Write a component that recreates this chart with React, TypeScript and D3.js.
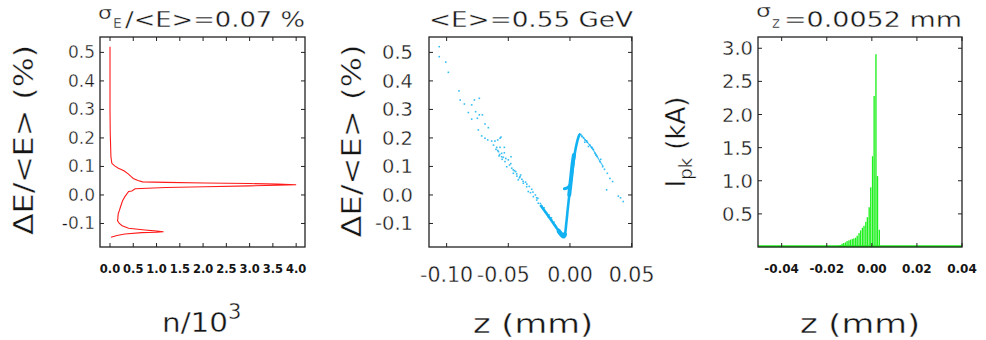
import React from "react";
import * as d3 from "d3";

// ---------- Panel 1: energy histogram ----------
const histN = [0, 0, 0.005, 0.02, 0.04, 0.1, 0.18, 0.3, 0.39, 0.45, 0.5, 0.6, 0.7, 1.2, 2.04, 3.0, 3.6, 4.0, 3.6, 3.0, 2.04, 1.2, 0.54, 0.47, 0.4, 0.32, 0.27, 0.25, 0.22, 0.2, 0.18, 0.17, 0.17, 0.16, 0.2, 0.26, 0.4, 0.75, 0.95, 1.15, 1.0, 0.68, 0.32, 0.15, 0.02];
const histE = [0.52, 0.3, 0.217, 0.133, 0.111, 0.102, 0.094, 0.085, 0.074, 0.065, 0.058, 0.051, 0.046, 0.044, 0.042, 0.040, 0.038, 0.036, 0.034, 0.032, 0.029, 0.026, 0.022, 0.014, 0.012, -0.006, -0.02, -0.03, -0.045, -0.055, -0.064, -0.075, -0.082, -0.09, -0.1, -0.108, -0.117, -0.123, -0.126, -0.129, -0.131, -0.132, -0.137, -0.142, -0.148];
const ticksE = [-0.1, 0, 0.1, 0.2, 0.3, 0.4, 0.5];
const ticksN = [0, 0.5, 1, 1.5, 2, 2.5, 3, 3.5, 4];

// ---------- Panel 2: longitudinal phase space ----------
const sparseZ = [-0.106, -0.106, -0.1007, -0.0986, -0.09, -0.089, -0.0856, -0.0797, -0.0775, -0.0735, -0.0824, -0.0765, -0.0797, -0.0751, -0.0735, -0.071, -0.0689, -0.0662, -0.0743, -0.0716, -0.0689, -0.0667, -0.0635, -0.0608, -0.0586, -0.0567, -0.0559, -0.0594, -0.0567, -0.0532, -0.0586, -0.0554, -0.0532, -0.0575, -0.054, -0.0478, -0.058, -0.0554, -0.0527, -0.05, -0.0513, -0.0472, -0.0459, -0.0432, -0.0405, -0.0419, -0.0378, -0.0351, -0.0338, -0.0297, -0.027, -0.0257, -0.0229, -0.0203, -0.0176, -0.0148, -0.0122, -0.0095, -0.0068, -0.049, -0.046, -0.044, -0.04, -0.039, -0.036, -0.033, -0.031, -0.032, -0.028, -0.026, -0.024, -0.021, -0.019, -0.017, -0.015, -0.013, -0.011, 0.0095, 0.011, 0.0122, 0.014, 0.0162, 0.018, 0.0203, 0.022, 0.0243, 0.0265, 0.028, 0.0303, 0.0324, 0.0346, 0.0297, 0.0392, 0.0432, 0.041, 0.015, 0.019, 0.012, 0.025, 0.021, 0.0175, 0.0135, -0.062, -0.06, -0.057, -0.055, -0.052, -0.048, -0.045, -0.043, -0.041, -0.038, -0.035, -0.03, -0.027, -0.023];
const sparseE = [0.52, 0.485, 0.466, 0.43, 0.365, 0.333, 0.319, 0.316, 0.333, 0.339, 0.289, 0.292, 0.266, 0.269, 0.281, 0.281, 0.249, 0.236, 0.228, 0.207, 0.199, 0.193, 0.189, 0.189, 0.193, 0.199, 0.203, 0.167, 0.167, 0.167, 0.156, 0.146, 0.148, 0.137, 0.132, 0.134, 0.152, 0.134, 0.117, 0.123, 0.099, 0.094, 0.076, 0.074, 0.064, 0.053, 0.041, 0.029, 0.012, -0.006, -0.018, -0.029, -0.041, -0.059, -0.076, -0.088, -0.105, -0.12, -0.132, 0.105, 0.088, 0.082, 0.07, 0.055, 0.045, 0.03, 0.02, 0.008, 0.0, -0.012, -0.03, -0.045, -0.062, -0.07, -0.08, -0.095, -0.11, 0.205, 0.2, 0.193, 0.185, 0.175, 0.165, 0.146, 0.135, 0.117, 0.099, 0.09, 0.076, 0.058, 0.047, 0.018, -0.004, -0.023, -0.01, 0.17, 0.16, 0.185, 0.125, 0.14, 0.168, 0.19, 0.175, 0.16, 0.142, 0.125, 0.128, 0.11, 0.085, 0.066, 0.06, 0.048, 0.038, 0.01, -0.01, -0.038];
const coreZ = [-0.024, -0.019, -0.015, -0.011, -0.008, -0.0065, -0.005, -0.0042, -0.003, -0.0018, -0.0008, 0.0002, 0.0015, 0.003, 0.0045, 0.006, 0.0075, 0.0085];
const coreE = [-0.035, -0.065, -0.09, -0.115, -0.132, -0.14, -0.145, -0.14, -0.1, -0.05, -0.01, 0.03, 0.07, 0.12, 0.16, 0.19, 0.21, 0.215];
const blobZ = [-0.009, -0.0065, -0.005, -0.0042];
const blobE = [-0.127, -0.141, -0.145, -0.138];
const riseZ = [-0.0006, 0.0008, 0.0022, 0.0032];
const riseE = [0.0, 0.055, 0.11, 0.14];
const hookZ = [-0.0045, -0.002, 0.0];
const hookE = [0.022, 0.025, 0.035];
const fallZ = [0.0085, 0.012, 0.016, 0.02, 0.024, 0.027];
const fallE = [0.215, 0.195, 0.175, 0.15, 0.12, 0.1];
const ticksZ2 = [-0.1, -0.05, 0, 0.05];

// ---------- Panel 3: current profile ----------
const binZ = [-0.0146, -0.0139, -0.0131, -0.0124, -0.0116, -0.0109, -0.0101, -0.0094, -0.0086, -0.0079, -0.0071, -0.0064, -0.0056, -0.0049, -0.0041, -0.0034, -0.0026, -0.0019, -0.0011, -0.0004, 0.0004, 0.0011, 0.0019, 0.0026, 0.0034];
const binI = [0.02, 0.03, 0.05, 0.06, 0.07, 0.09, 0.1, 0.11, 0.12, 0.13, 0.14, 0.17, 0.21, 0.25, 0.29, 0.32, 0.38, 0.45, 0.6, 0.9, 1.37, 2.28, 2.91, 1.07, 0.26];
const floorZ = [-0.0505, 0.04];
const floorI = [0.012, 0.012];
const ticksZ3 = [-0.04, -0.02, 0, 0.02, 0.04];
const ticksI = [0.5, 1, 1.5, 2, 2.5, 3];

const FONT = "DejaVu Sans";
const TOP = 37;
const BOT = 247;
const INK = "#151515";
const fmt1 = (v: number) => d3.format(".1f")(v).replace("−", "-");
const fmt2 = (v: number) => d3.format(".2f")(v).replace("−", "-");

// slightly thinner-looking text: a faint white outline over the glyph edges
const thin = { stroke: "#fff", strokeWidth: 0.35 } as const;

function Frame({ x0, x1, xs, ys, xt, yt }: any) {
  const tl = 4;
  return (
    <g stroke="#222" strokeWidth={1}>
      <rect x={x0} y={TOP} width={x1 - x0} height={BOT - TOP} fill="none" strokeWidth={1.3} />
      {xt.map((t: number, i: number) => (
        <g key={"x" + i}>
          <line x1={xs(t)} x2={xs(t)} y1={BOT} y2={BOT - tl} />
          <line x1={xs(t)} x2={xs(t)} y1={TOP} y2={TOP + tl} />
        </g>
      ))}
      {yt.map((t: number, i: number) => (
        <g key={"y" + i}>
          <line x1={x0} x2={x0 + tl} y1={ys(t)} y2={ys(t)} />
          <line x1={x1} x2={x1 - tl} y1={ys(t)} y2={ys(t)} />
        </g>
      ))}
    </g>
  );
}

export default function App() {
  const yE = d3.scaleLinear().domain([-0.1825, 0.554]).range([BOT, TOP]);

  // Panel 1
  const p1x0 = 100, p1x1 = 305;
  const xN = d3.scaleLinear().domain([-0.215, 4.19]).range([p1x0, p1x1]);
  const histLine = d3.line<number>().x((_, i) => xN(histN[i])).y((d) => yE(d));

  // Panel 2
  const p2x0 = 429, p2x1 = 632;
  const xZ2 = d3.scaleLinear().domain([-0.1143, 0.0503]).range([p2x0, p2x1]);
  const mk = (zs: number[]) => d3.line<number>().x((_, i) => xZ2(zs[i])).y((d) => yE(d)).curve(d3.curveCatmullRom);

  // Panel 3
  const p3x0 = 758, p3x1 = 962;
  const xZ3 = d3.scaleLinear().domain([-0.0505, 0.04]).range([p3x0, p3x1]);
  const yI = d3.scaleLinear().domain([0, 3.17]).range([BOT, TOP]);
  const bw = xZ3(0.00075) - xZ3(0);
  const floorLine = d3.line<number>().x((_, i) => xZ3(floorZ[i])).y((d) => yI(d));

  const blue = "#12b2f2";
  const green = "#1ef01e";
  const SG = "spacingAndGlyphs";

  return (
    <svg width={986} height={340} style={{ position: "absolute", left: 0, top: 0, background: "#fff" }} fontFamily={FONT}>
      <rect x={0} y={0} width={986} height={340} fill="#fff" />

      {/* ---------------- Panel 1 ---------------- */}
      <path d={histLine(histE) || ""} fill="none" stroke="#ff1a1a" strokeWidth={1.1} />
      <Frame x0={p1x0} x1={p1x1} xs={xN} ys={yE} xt={ticksN} yt={ticksE} />
      {ticksE.map((t, i) => (
        <text key={i} x={p1x0 - 5} y={yE(t) + 6} fontSize={17} textAnchor="end" fill={INK} {...thin}>{fmt1(t)}</text>
      ))}
      {ticksN.map((t, i) => (
        <text key={i} x={xN(t)} y={273} fontSize={11.5} fontWeight="bold" textAnchor="middle" fill={INK}>{fmt1(t)}</text>
      ))}
      <text x={98} y={19} fontSize={18} fill={INK} textLength={14} lengthAdjust={SG} {...thin}>σ</text>
      <text x={113} y={28} fontSize={14} fill={INK} {...thin}>E</text>
      <text x={125} y={27} fontSize={22} fill={INK} textLength={180} lengthAdjust={SG} {...thin}>{"/<E>=0.07  %"}</text>
      <text transform="translate(24,140) rotate(-90)" textAnchor="middle" dy="0.36em" fontSize={26} fill={INK} textLength={190} lengthAdjust={SG} {...thin}>{"ΔE/<E>  (%)"}</text>
      <text x={162} y={332} fontSize={27} fill={INK} textLength={66} lengthAdjust={SG} {...thin}>n/10</text>
      <text x={228} y={319} fontSize={21} fill={INK} {...thin}>3</text>

      {/* ---------------- Panel 2 ---------------- */}
      <path d={mk(fallZ)(fallE) || ""} fill="none" stroke={blue} strokeWidth={1.3} opacity={0.7} />
      <path d={mk(coreZ)(coreE) || ""} fill="none" stroke={blue} strokeWidth={2.6} />
      <path d={mk(blobZ)(blobE) || ""} fill="none" stroke={blue} strokeWidth={4.5} strokeLinecap="round" />
      <path d={mk(riseZ)(riseE) || ""} fill="none" stroke={blue} strokeWidth={4} strokeLinecap="round" />
      <path d={mk(hookZ)(hookE) || ""} fill="none" stroke={blue} strokeWidth={3} strokeLinecap="round" />
      {sparseZ.map((z, i) => (
        <rect key={i} x={xZ2(z) - 0.8} y={yE(sparseE[i]) - 0.8} width={1.6} height={1.6} fill={blue} opacity={0.85} />
      ))}
      <Frame x0={p2x0} x1={p2x1} xs={xZ2} ys={yE} xt={ticksZ2} yt={ticksE} />
      {ticksE.map((t, i) => (
        <text key={i} x={413} y={yE(t) + 7} fontSize={19.5} textAnchor="end" fill={INK} {...thin}>{fmt1(t)}</text>
      ))}
      {ticksZ2.map((t, i) => (
        <text key={i} x={xZ2(t) + (t === -0.05 ? -5 : 0)} y={282} fontSize={20.5} textAnchor="middle" fill={INK} {...thin}>{fmt2(t)}</text>
      ))}
      <text x={429} y={27} fontSize={22} fill={INK} textLength={204} lengthAdjust={SG} {...thin}>{"<E>=0.55  GeV"}</text>
      <text transform="translate(352,141) rotate(-90)" textAnchor="middle" dy="0.36em" fontSize={26} fill={INK} textLength={193} lengthAdjust={SG} {...thin}>{"ΔE/<E>  (%)"}</text>
      <text x={533} y={333} fontSize={27} textAnchor="middle" fill={INK} textLength={120} lengthAdjust={SG} {...thin}>{"z  (mm)"}</text>

      {/* ---------------- Panel 3 ---------------- */}
      <path d={floorLine(floorI) || ""} fill="none" stroke={green} strokeWidth={2} />
      {binZ.map((z, i) => (
        <rect key={i} x={xZ3(z) - bw / 2} y={yI(binI[i])} width={Math.max(bw - 0.35, 0.5)} height={BOT - yI(binI[i])} fill={green} />
      ))}
      <Frame x0={p3x0} x1={p3x1} xs={xZ3} ys={yI} xt={ticksZ3} yt={ticksI} />
      {ticksI.map((t, i) => (
        <text key={i} x={753} y={yI(t) + 7} fontSize={19.5} textAnchor="end" fill={INK} {...thin}>{fmt1(t)}</text>
      ))}
      {ticksZ3.map((t, i) => (
        <text key={i} x={xZ3(t)} y={273} fontSize={12} fontWeight="bold" textAnchor="middle" fill={INK}>{fmt2(t)}</text>
      ))}
      <text x={756} y={17} fontSize={18} fill={INK} textLength={15} lengthAdjust={SG} {...thin}>σ</text>
      <text x={772} y={28} fontSize={15} fill={INK} {...thin}>z</text>
      <text x={784} y={27} fontSize={22} fill={INK} textLength={178} lengthAdjust={SG} {...thin}>{"=0.0052  mm"}</text>
      <text transform="translate(676,142) rotate(-90)" textAnchor="middle" dy="0.36em" fontSize={26} fill={INK} {...thin}>
        <tspan>I</tspan>
        <tspan fontSize={18} dy={7}>pk</tspan>
        <tspan dy={-7}>{"  (kA)"}</tspan>
      </text>
      <text x={860} y={333} fontSize={27} textAnchor="middle" fill={INK} textLength={120} lengthAdjust={SG} {...thin}>{"z  (mm)"}</text>
    </svg>
  );
}
